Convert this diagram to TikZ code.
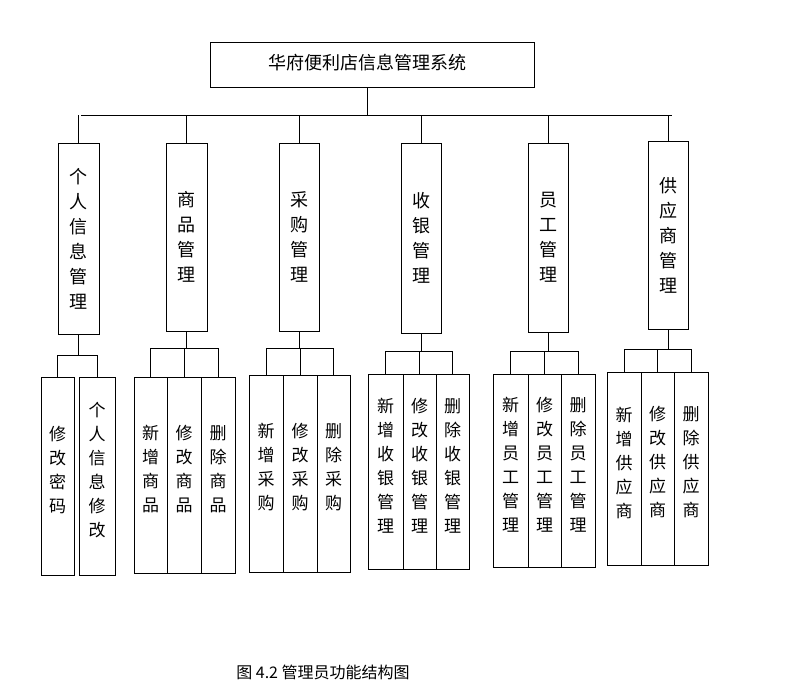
\documentclass[tikz,border=0pt]{standalone}
\usepackage{fontspec}
\setmainfont{Noto Sans CJK SC}
\begin{document}
\begin{tikzpicture}[x=1pt,y=-1pt,
  bx/.style={draw,line width=0.8pt,inner sep=0pt},
  cat/.style={font=\fontsize{18}{25}\selectfont,align=center},
  leaf/.style={font=\fontsize{17}{24}\selectfont,align=center},
  ln/.style={line width=0.8pt}]
\useasboundingbox (0,0) rectangle (794,689);
% top
\draw[bx] (210,42) rectangle (534,87);
\node[font=\fontsize{18}{20}\selectfont] (top) at (367,63) {华府便利店信息管理系统};
\coordinate (tb) at (367,87);
\coordinate (tj) at (367,115);
\draw[ln] (tb) -- (tj);
\draw[ln] (81,115) -- (672,115);
\newcommand\catbox[6]{%
  \draw[bx] (#2,#4) rectangle (#3,#5);
  \node[cat] (#1) at ({(#2+#3)/2},{(#4+#5)/2}) {#6};
  \draw[ln] ({(#2+#3)/2},115) -- ({(#2+#3)/2},#4);}
\catbox{c1}{58}{99}{143}{334}{个\\人\\信\\息\\管\\理}
\catbox{c2}{166}{207}{143}{331}{商\\品\\管\\理}
\catbox{c3}{279}{319}{143}{331}{采\\购\\管\\理}
\catbox{c4}{401}{441}{143}{333}{收\\银\\管\\理}
\catbox{c5}{528}{568}{143}{332}{员\\工\\管\\理}
\catbox{c6}{648}{688}{141}{329}{供\\应\\商\\管\\理}
\newcommand\leafbox[7]{% name x1 x2 y1 y2 hy label
  \draw[bx] (#2,#4) rectangle (#3,#5);
  \node[leaf] (#1) at ({(#2+#3)/2},{(#4+#5)/2-6}) {#7};
  \draw[ln] ({(#2+#3)/2},#6) -- ({(#2+#3)/2},#4);}
\draw[ln] (78,334) -- (78,355); \draw[ln] (58,355) -- (97,355);
\leafbox{l11}{41}{74}{377}{575}{355}{修\\改\\密\\码}
\leafbox{l12}{79}{115}{377}{575}{355}{个\\人\\信\\息\\修\\改}
\draw[ln] (186,331) -- (186,348); \draw[ln] (150,348) -- (218,348);
\leafbox{l21}{134}{167}{377}{573}{348}{新\\增\\商\\品}
\leafbox{l22}{167}{201}{377}{573}{348}{修\\改\\商\\品}
\leafbox{l23}{201}{235}{377}{573}{348}{删\\除\\商\\品}
\draw[ln] (299,331) -- (299,348); \draw[ln] (266,348) -- (333,348);
\leafbox{l31}{249}{283}{375}{572}{348}{新\\增\\采\\购}
\leafbox{l32}{283}{317}{375}{572}{348}{修\\改\\采\\购}
\leafbox{l33}{317}{350}{375}{572}{348}{删\\除\\采\\购}
\draw[ln] (421,333) -- (421,351); \draw[ln] (385,351) -- (452,351);
\leafbox{l41}{368}{403}{374}{569}{351}{新\\增\\收\\银\\管\\理}
\leafbox{l42}{403}{436}{374}{569}{351}{修\\改\\收\\银\\管\\理}
\leafbox{l43}{436}{469}{374}{569}{351}{删\\除\\收\\银\\管\\理}
\draw[ln] (548,332) -- (548,351); \draw[ln] (510,351) -- (578,351);
\leafbox{l51}{493}{528}{374}{567}{351}{新\\增\\员\\工\\管\\理}
\leafbox{l52}{528}{561}{374}{567}{351}{修\\改\\员\\工\\管\\理}
\leafbox{l53}{561}{595}{374}{567}{351}{删\\除\\员\\工\\管\\理}
\draw[ln] (668,329) -- (668,349); \draw[ln] (624,349) -- (691,349);
\leafbox{l61}{607}{641}{372}{565}{349}{新\\增\\供\\应\\商}
\leafbox{l62}{641}{674}{372}{565}{349}{修\\改\\供\\应\\商}
\leafbox{l63}{674}{708}{372}{565}{349}{删\\除\\供\\应\\商}
\node[font=\fontsize{16}{18}\selectfont] (cap) at (323,672) {图 4.2 管理员功能结构图};
\end{tikzpicture}
\end{document}
